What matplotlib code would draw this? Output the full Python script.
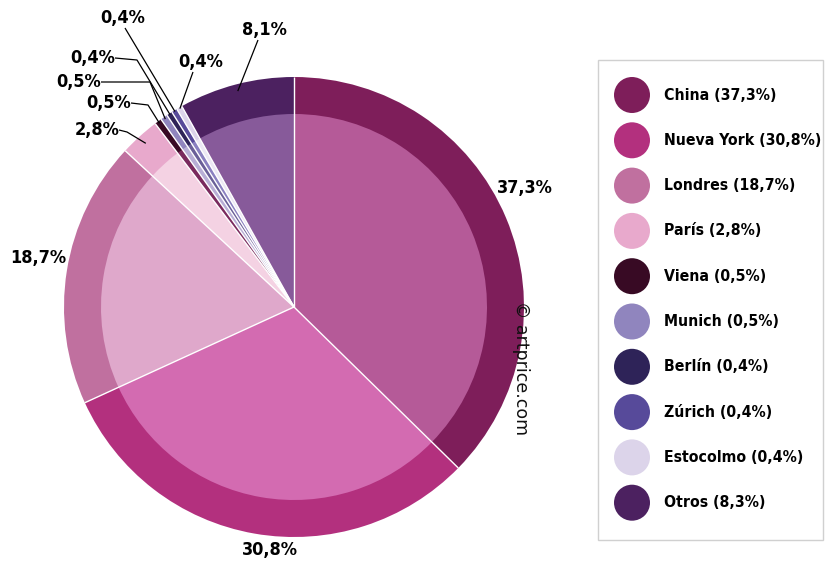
import numpy as np
import matplotlib.pyplot as plt
from matplotlib.patches import Rectangle, Circle
from matplotlib import font_manager
from matplotlib.font_manager import FontProperties

# datos
ciudades = ["China", "Nueva York", "Londres", "París", "Viena", "Munich",
            "Berlín", "Zúrich", "Estocolmo", "Otros"]
cuota = [37.3, 30.8, 18.7, 2.8, 0.5, 0.5, 0.4, 0.4, 0.4, 8.1]
leyenda = ["China (37,3%)", "Nueva York (30,8%)", "Londres (18,7%)", "París (2,8%)",
           "Viena (0,5%)", "Munich (0,5%)", "Berlín (0,4%)", "Zúrich (0,4%)",
           "Estocolmo (0,4%)", "Otros (8,3%)"]
etiquetas = ["37,3%", "30,8%", "18,7%", "2,8%", "0,5%", "0,5%", "0,4%", "0,4%", "0,4%", "8,1%"]

col_ext = ["#7e1e5a", "#b3307e", "#c0709f", "#e8a9cc", "#380a24",
           "#9085be", "#2e2358", "#574a9a", "#dcd4ea", "#4c2160"]
col_int = ["#b55a98", "#d36bb1", "#dfa8cb", "#f4d2e3", "#7a2a5e",
           "#b8aed6", "#6a5f98", "#8a80c0", "#ece8f4", "#875a9a"]

W, H = 827, 563
fig = plt.figure(figsize=(W / 100, H / 100), dpi=100)
ax = fig.add_axes([0, 0, 1, 1])

# buscar una fuente estrecha en negrita
def peso(f):
    w = f.weight
    if isinstance(w, str):
        return {"bold": 700, "semibold": 600, "heavy": 800, "black": 900}.get(w, 400)
    return w

cand = [f for f in font_manager.fontManager.ttflist
        if ("Condensed" in f.name or "Narrow" in f.name
            or "ondensed" in f.fname or "Narrow" in f.fname
            or f.stretch in ("condensed", "semi-condensed"))
        and peso(f) >= 600 and "Italic" not in f.fname and f.style == "normal"]
cand.sort(key=lambda f: abs(peso(f) - 700))
if cand:
    fp = FontProperties(fname=cand[0].fname)
    fs, fs_ley = 13, 11.3
else:
    fp = FontProperties(family=["Roboto", "DejaVu Sans"], weight="bold")
    fs, fs_ley = 11, 10

cx, cy = 294, H - 307
R, r_in = 230, 193

ax.pie(cuota, colors=col_ext, startangle=90, counterclock=False,
       center=(cx, cy), radius=R, frame=True,
       wedgeprops=dict(edgecolor="none", linewidth=0))
ax.pie(cuota, colors=col_int, startangle=90, counterclock=False,
       center=(cx, cy), radius=r_in, frame=True,
       wedgeprops=dict(edgecolor="none", linewidth=0))
ax.set_xlim(0, W)
ax.set_ylim(0, H)
ax.set_aspect("equal")
ax.axis("off")

# angulos de cada porcion
frac = np.array(cuota) / sum(cuota)
fin = np.cumsum(frac)
medio = fin - frac / 2
ang = np.deg2rad(90 - medio * 360)

# separadores blancos entre porciones
for f in np.concatenate([[0], fin[:-1]]):
    a = np.deg2rad(90 - f * 360)
    ax.plot([cx, cx + R * np.cos(a)], [cy, cy + R * np.sin(a)],
            color="white", linewidth=1, solid_capstyle="butt")

def borde(i, k):
    return cx + k * R * np.cos(ang[i]), cy + k * R * np.sin(ang[i])

# etiquetas grandes
pos_txt = {0: (525, 188), 1: (270, 550), 2: (38, 258)}
for i, (px, py) in pos_txt.items():
    ax.text(px, H - py, etiquetas[i], ha="center", va="center",
            fontsize=fs, fontproperties=fp)

# etiquetas pequeñas con linea guia: (texto x, texto y, codo x, codo y, radio)
guias = {
    3: (97, 130, 127, 132, 0.96),
    4: (109, 103, 148, 105, 0.99),
    5: (79, 82, 150, 82, 0.99),
    6: (93, 58, 137, 60, 0.995),
    7: (123, 18, None, None, 0.995),
    8: (201, 62, None, None, 0.995),
    9: (264, 30, None, None, 0.97),
}
for i, (tx, ty, ex, ey, k) in guias.items():
    ax.text(tx, H - ty, etiquetas[i], ha="center", va="center",
            fontsize=fs, fontproperties=fp)
    bx, by = borde(i, k)
    if ex is not None:
        xs = [tx + 22, ex, bx]
        ys = [H - ty, H - ey, by]
    else:
        xs = [tx + (2 if i == 7 else -8 if i == 8 else -6), bx]
        ys = [H - ty - 10, by]
    ax.plot(xs, ys, color="black", linewidth=0.9, solid_capstyle="butt")

# copyright
ax.text(521, H - 368, "© artprice.com", rotation=-90, ha="center", va="center",
        fontsize=12.5, family=["DejaVu Sans"], color="#111111")

# leyenda
ax.add_patch(Rectangle((598, H - 540), 225, 480, facecolor="white",
                       edgecolor="#d0d0d0", linewidth=1))
for j, (txt, c) in enumerate(zip(leyenda, col_ext)):
    ly = H - (95 + j * 45.3)
    ax.add_patch(Circle((632, ly), 18, facecolor=c, edgecolor="none"))
    ax.text(664, ly, txt, ha="left", va="center", fontsize=fs_ley,
            fontproperties=fp)

fig.savefig("out.png", dpi=100)
